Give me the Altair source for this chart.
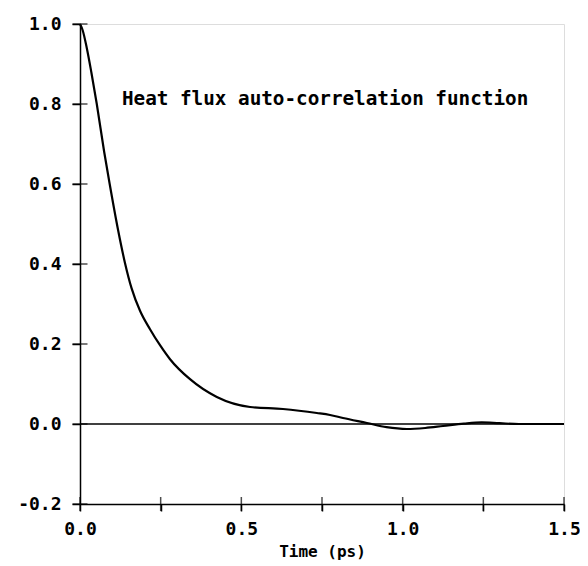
import altair as alt
import pandas as pd

# Heat flux auto-correlation function
time_ps = [0.0, 0.008, 0.021, 0.035, 0.052, 0.075, 0.092, 0.118, 0.139, 0.16,
           0.186, 0.217, 0.248, 0.279, 0.341, 0.424, 0.527, 0.629, 0.734, 0.775,
           0.815, 0.889, 0.95, 1.013, 1.07, 1.125, 1.19, 1.245, 1.3, 1.36, 1.43, 1.5]
hfacf = [1.0, 0.985, 0.94, 0.88, 0.8, 0.68, 0.6, 0.485, 0.404, 0.339,
         0.283, 0.237, 0.197, 0.162, 0.112, 0.0675, 0.0425, 0.0375, 0.0275, 0.0225,
         0.015, 0.0025, -0.008, -0.0125, -0.01, -0.005, 0.001, 0.004, 0.002, 0.0, 0.0, 0.0]

x_ticks = [0.0, 0.25, 0.5, 0.75, 1.0, 1.25, 1.5]
y_ticks = [-0.2, 0.0, 0.2, 0.4, 0.6, 0.8, 1.0]
zero_level = [0.0]
x_axis_min = [-0.2]
y_axis_at = [0.0]
annotation = "Heat flux auto-correlation function"
annotation_at = (0.13, 0.8125)

FONT = "DejaVu Sans Mono"

curve_df = pd.DataFrame({"t": time_ps, "v": hfacf})
xt_df = pd.DataFrame({"t": x_ticks, "v": x_axis_min * len(x_ticks)})
yt_df = pd.DataFrame({"t": y_axis_at * len(y_ticks), "v": y_ticks})
zero_df = pd.DataFrame({"t": [x_ticks[0]], "t2": [x_ticks[-1]], "v": zero_level})

xscale = alt.Scale(domain=[0.0, 1.5], nice=False, zero=False)
yscale = alt.Scale(domain=[-0.2, 1.0], nice=False, zero=False)

xaxis = alt.Axis(
    values=x_ticks,
    labelExpr="(datum.value * 2) % 1 == 0 ? format(datum.value, '.1f') : ''",
    grid=False, domainColor="black", domainWidth=1.5,
    tickColor="black", tickSize=7, tickWidth=1.5,
    labelFont=FONT, labelFontSize=18, labelFontWeight="bold", labelColor="black",
    labelPadding=9, labelFlush=False, labelOverlap=False,
    title="Time (ps)", titleFont=FONT, titleFontSize=16, titleFontWeight="bold",
    titleColor="black", titlePadding=5,
)
yaxis = alt.Axis(
    values=y_ticks,
    labelExpr="datum.value < 0 ? '-' + format(-datum.value, '.1f') : format(datum.value, '.1f')",
    grid=False, domainColor="black", domainWidth=1.5,
    tickColor="black", tickSize=8, tickWidth=1.5,
    labelFont=FONT, labelFontSize=18, labelFontWeight="bold", labelColor="black",
    labelPadding=11, labelFlush=False, labelOverlap=False,
    title=None,
)

curve = alt.Chart(curve_df).mark_line(
    color="black", strokeWidth=2.2, interpolate="monotone"
).encode(
    x=alt.X("t:Q", scale=xscale, axis=xaxis),
    y=alt.Y("v:Q", scale=yscale, axis=yaxis),
)

zero_line = alt.Chart(zero_df).mark_rule(color="black", strokeWidth=1.5).encode(
    x="t:Q", x2="t2:Q", y="v:Q"
)

x_tick_marks = alt.Chart(xt_df).mark_tick(
    orient="vertical", color="black", size=14, thickness=1.5
).encode(x="t:Q", y="v:Q")

y_tick_marks = alt.Chart(yt_df).mark_tick(
    orient="horizontal", color="black", size=15, thickness=1.5
).encode(x="t:Q", y="v:Q")

label = alt.Chart(pd.DataFrame({"t": [annotation_at[0]], "v": [annotation_at[1]], "s": [annotation]})).mark_text(
    align="left", baseline="middle", font=FONT, fontSize=19.3, fontWeight="bold", color="black"
).encode(x="t:Q", y="v:Q", text="s:N")

chart = alt.layer(curve, zero_line, x_tick_marks, y_tick_marks, label).properties(
    width=484, height=480,
    autosize=alt.AutoSizeParams(type="none"),
    padding={"left": 72, "top": 16, "right": 16, "bottom": 60},
).configure_view(stroke="black", strokeWidth=2).configure(background="white")

chart.save("out.html", embed_options={"renderer": "svg", "actions": False})
